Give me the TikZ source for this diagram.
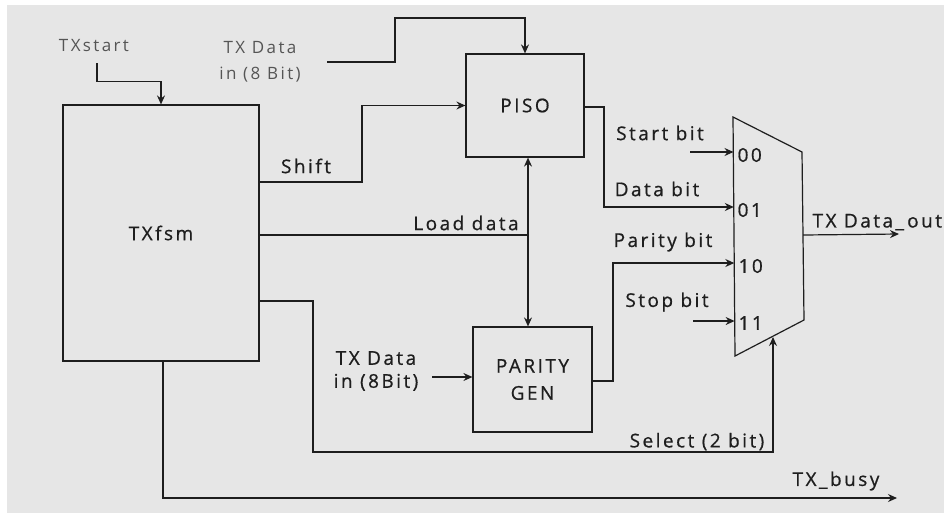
\documentclass[tikz,border=0pt]{standalone}
\usepackage{fontspec}
\setmainfont{Open Sans}[LetterSpace=14]
\newfontfamily\darkfont{Open Sans}[LetterSpace=13,FakeBold=0.7]
\usetikzlibrary{arrows.meta,calc}
\definecolor{bgc}{HTML}{E6E6E6}
\definecolor{ink}{HTML}{1E1E1E}
\definecolor{inklight}{HTML}{555555}
\begin{document}
\begin{tikzpicture}[x=1pt,y=-1pt,
  line width=1.2pt, draw=ink,
  box/.style={draw=ink, rectangle, line width=1.2pt, inner sep=0pt, text=ink, font=\darkfont\fontsize{19}{23}\selectfont, align=center},
  lbl/.style={text=ink, inner sep=0pt, font=\darkfont\fontsize{19}{23}\selectfont, align=center},
  lbllight/.style={text=inklight, inner sep=0pt, font=\fontsize{17}{26}\selectfont, align=center},
  arr/.style={draw=ink, -{Stealth[length=9pt,width=8pt,inset=3pt]}},
  arrboth/.style={draw=ink, {Stealth[length=9pt,width=8pt,inset=3pt]}-{Stealth[length=9pt,width=8pt,inset=3pt]}},
  wire/.style={draw=ink}]
\useasboundingbox (0,0) rectangle (944,515);
\fill[white] (0,0) rectangle (944,515);
\fill[bgc] (7,5) rectangle (944,513);

% blocks
\node[box, minimum width=196pt, minimum height=256pt] (fsm) at (161,233) {TXfsm};
\node[box, minimum width=118pt, minimum height=103pt] (piso) at (525,105.5) {PISO};
\node[box, minimum width=119pt, minimum height=105pt] (par) at (532.5,379.5) {PARITY\\[4pt]GEN};

% multiplexer
\coordinate (mtl) at (733,117);
\coordinate (mtr) at (802,152);
\coordinate (mbr) at (804,320);
\coordinate (mbl) at (735,356);
\draw[wire] (mtl) -- (mtr) -- (mbr) -- (mbl) -- cycle;
\coordinate (m00) at (733.5,152);
\coordinate (m01) at (733.8,207);
\coordinate (m10) at (734.3,263);
\coordinate (m11) at (734.6,321);
\coordinate (mout) at (803,235);
\coordinate (msel) at (773,337);
\node[lbl, anchor=west] (l00) at (737,155) {00};
\node[lbl, anchor=west] (l01) at (737,210) {01};
\node[lbl, anchor=west] (l10) at (738,266) {10};
\node[lbl, anchor=west] (l11) at (738,323) {11};

% TXstart
\node[lbllight] (txstart) at (94,46) {TXstart};
\draw[arr] (97,63) |- ([yshift=23pt]fsm.north) -- (fsm.north);

% TX Data in (8 Bit) top
\node[lbllight] (tdin1) at (260,62) {TX Data\\in (8 Bit)};
\draw[arr] (327,62) -| (395,18) -| (piso.north);

% Shift
\node[lbl] (shiftl) at (306,166) {Shift};
\draw[arr] (fsm.east |- 0,182) -| (362,0 |- piso.west) -- (piso.west);

% Load data
\node[lbl] (loadl) at (466,223) {Load data};
\coordinate (jld) at (528,235);
\draw[wire] (fsm.east |- 0,235) -- (jld);

% PISO <-> PARITY GEN
\draw[arrboth] (piso.south -| 528,0) -- (par.north -| 528,0);

% TX Data in (8Bit) to parity
\node[lbl] (tdin2) at (376,371) {TX Data\\in (8Bit)};
\draw[arr] (432,377) -- (par.west |- 0,377);

% PISO out -> Data bit
\node[lbl] (datal) at (657,189) {Data bit};
\draw[arr] (piso.east |- 0,107) -| (604,0 |- m01) -- (m01);

% Parity out
\node[lbl] (parl) at (663,242) {Parity bit};
\draw[arr] (par.east |- 0,381) -| (613,0 |- m10) -- (m10);

% Start bit
\node[lbl] (startl) at (660,133) {Start bit};
\draw[arr] (690,152) -- (m00);

% Stop bit
\node[lbl] (stopl) at (667,302) {Stop bit};
\draw[arr] (693,321) -- (m11);

% output
\node[lbl, anchor=south west] (outl) at (812,231) {TX Data\_\,out};
\coordinate (outend) at (899,234);
\draw[arr] (mout) -- (outend);

% Select
\node[lbl, anchor=south] (sell) at (697,451) {Select (2 bit)};
\draw[arr] (fsm.east |- 0,301) -| (313,452) -| (msel);

% TX_busy
\node[lbl] (busyl) at (836,481) {TX\_busy};
\coordinate (busyend) at (897,498);
\draw[arr] (fsm.south -| 163,0) |- (busyend);
\end{tikzpicture}
\end{document}
